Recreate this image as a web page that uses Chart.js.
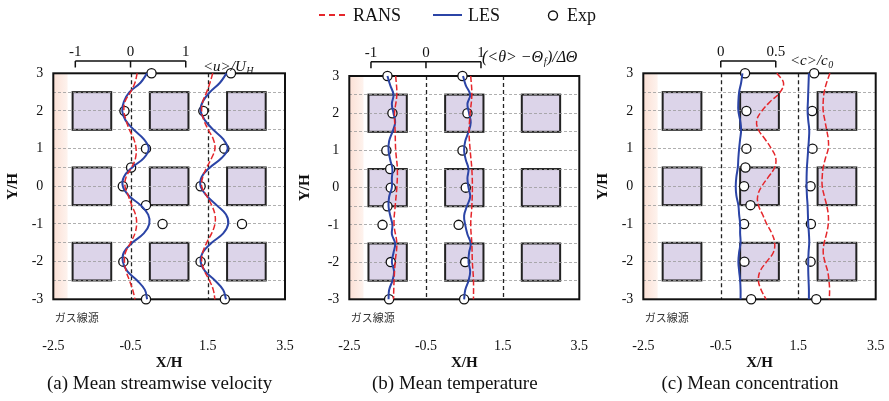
<!DOCTYPE html>
<html>
<head>
<meta charset="utf-8">
<script src="https://cdn.jsdelivr.net/npm/chart.js"></script>
<style>
  body { margin: 0; background: #fff; }
  #wrap { position: relative; width: 889px; height: 401px; overflow: hidden; }
  canvas { position: absolute; top: 0; }
</style>
</head>
<body>
<div id="wrap">
  <canvas id="panelA" width="296" height="401" style="left:0px"></canvas>
  <canvas id="panelB" width="310" height="401" style="left:296px"></canvas>
  <canvas id="panelC" width="299" height="401" style="left:590px"></canvas>
</div>
<script>
document.addEventListener("DOMContentLoaded", function () {

const SERIF = '"Liberation Serif", "Times New Roman", serif';
const CJK = '"Noto Sans CJK JP", "Noto Sans", sans-serif';
const RED = "#e5262b";
const BLUE = "#2b44a6";
const INK = "#111";

// Y/H stations of the profiles
const Y_PROFILE = [3, 2.75, 2.5, 2.25, 2, 1.75, 1.5, 1.25, 1, 0.75, 0.5, 0.25, 0,
  -0.25, -0.5, -0.75, -1, -1.25, -1.5, -1.75, -2, -2.25, -2.5, -2.75, -3];
const Y_COARSE = [3, 2.5, 2, 1.5, 1, 0.5, 0, -0.5, -1, -1.5, -2, -2.5, -3];
const Y_EXP_FULL = [3, 2, 1, 0.5, 0, -0.5, -1, -2, -3];
const Y_EXP_SHORT = [3, 2, 1, 0, -1, -2, -3];

const X_TICKS = [-2.5, -0.5, 1.5, 3.5];

// (a) <u>/U_H
const U_LES_1 = [0.30, 0.18, -0.02, -0.12, -0.15, -0.09, 0.06, 0.24, 0.33, 0.24, 0.03, -0.12, -0.14,
  -0.03, 0.18, 0.32, 0.34, 0.24, 0.03, -0.12, -0.14, -0.06, 0.12, 0.26, 0.30];
const U_RANS_1 = [0.12, 0.08, 0.00, -0.10, -0.12, -0.08, -0.02, 0.06, 0.10, 0.09, 0.02, -0.08, -0.10,
  -0.04, 0.02, 0.09, 0.11, 0.08, 0.00, -0.09, -0.11, -0.08, -0.02, 0.04, 0.08];
const U_EXP_1 = [0.38, -0.11, 0.28, 0.01, -0.14, 0.28, 0.58, -0.13, 0.28];
const U_LES_2 = [0.34, 0.22, 0.04, -0.09, -0.13, -0.05, 0.10, 0.28, 0.36, 0.25, 0.04, -0.11, -0.13,
  -0.02, 0.16, 0.33, 0.37, 0.28, 0.07, -0.09, -0.13, -0.05, 0.13, 0.28, 0.33];
const U_RANS_2 = [0.09, 0.04, -0.02, -0.09, -0.11, -0.07, 0.01, 0.10, 0.13, 0.07, -0.02, -0.09, -0.11,
  -0.02, 0.07, 0.13, 0.13, 0.07, -0.02, -0.09, -0.11, -0.06, 0.03, 0.10, 0.13];
const U_EXP_2 = [0.42, -0.08, 0.30, -0.13, 0.62, -0.13, 0.31];

// (b) (<theta> - Theta_f) / dTheta
const T_LES_1 = [-0.70, -0.65, -0.59, -0.62, -0.59, -0.56, -0.61, -0.67, -0.68, -0.65, -0.61, -0.62, -0.62,
  -0.67, -0.68, -0.65, -0.61, -0.62, -0.56, -0.59, -0.62, -0.58, -0.61, -0.67, -0.68];
const T_RANS_1 = [-0.55, -0.53, -0.57, -0.56, -0.55, -0.52, -0.53, -0.56, -0.58, -0.53, -0.56, -0.58, -0.59];
const T_EXP_1 = [-0.70, -0.61, -0.72, -0.65, -0.64, -0.70, -0.79, -0.64, -0.67];
const T_LES_2 = [-0.72, -0.67, -0.59, -0.64, -0.61, -0.58, -0.62, -0.68, -0.70, -0.67, -0.62, -0.64, -0.62,
  -0.59, -0.65, -0.70, -0.68, -0.64, -0.58, -0.61, -0.62, -0.59, -0.62, -0.68, -0.70];
const T_RANS_2 = [-0.58, -0.56, -0.59, -0.61, -0.59, -0.56, -0.55, -0.56, -0.58, -0.56, -0.55, -0.53, -0.53];
const T_EXP_2 = [-0.73, -0.64, -0.73, -0.67, -0.80, -0.68, -0.70];

// (c) <c>/c0
const C_LES_1 = [0.197, 0.185, 0.167, 0.160, 0.160, 0.176, 0.185, 0.176, 0.167, 0.160, 0.155, 0.142, 0.136,
  0.142, 0.160, 0.167, 0.176, 0.176, 0.180, 0.167, 0.160, 0.167, 0.176, 0.180, 0.180];
const C_RANS_1 = [0.51, 0.57, 0.54, 0.45, 0.373, 0.327, 0.342, 0.403, 0.46, 0.50, 0.49, 0.433, 0.373,
  0.336, 0.342, 0.38, 0.418, 0.464, 0.49, 0.479, 0.418, 0.358, 0.342, 0.367, 0.412];
const C_EXP_1 = [0.221, 0.233, 0.233, 0.224, 0.212, 0.270, 0.212, 0.215, 0.276];
const C_LES_2 = [0.097, 0.094, 0.091, 0.088, 0.085, 0.091, 0.100, 0.097, 0.091, 0.085, 0.079, 0.076, 0.076,
  0.079, 0.085, 0.088, 0.091, 0.097, 0.100, 0.094, 0.091, 0.091, 0.094, 0.097, 0.097];
const C_RANS_2 = [0.288, 0.258, 0.236, 0.227, 0.227, 0.242, 0.258, 0.273, 0.273, 0.248, 0.227, 0.218, 0.218,
  0.236, 0.258, 0.273, 0.273, 0.258, 0.236, 0.227, 0.242, 0.267, 0.279, 0.285, 0.282];
const C_EXP_2 = [0.145, 0.127, 0.130, 0.112, 0.115, 0.112, 0.164];

// block array and source strip (X/H, Y/H)
const BLOCK_X = [[-2, -1], [0, 1], [2, 3]];
const BLOCK_Y = [[1.5, 2.5], [-0.5, 0.5], [-2.5, -1.5]];
const STRIP_X = [-2.5, -2.13];

const panels = [
  {
    id: "panelA", top: 73.3, padRight: 11, yTitlePad: 4.6,
    caption: "(a) Mean streamwise velocity", scale: 1.43,
    bracket: { ticks: [-1, 0, 1], y: 61 },
    name: { x: 203, y: 71, parts: [["<u>/U", 15, 0], ["H", 10, 2.5]] },
    profiles: [
      { base: -0.5, les: U_LES_1, rans: U_RANS_1, ransY: Y_PROFILE, exp: U_EXP_1, expY: Y_EXP_FULL },
      { base: 1.5, les: U_LES_2, rans: U_RANS_2, ransY: Y_PROFILE, exp: U_EXP_2, expY: Y_EXP_SHORT }
    ]
  },
  {
    id: "panelB", top: 76, padRight: 26.7, yTitlePad: 0.6, legend: true,
    caption: "(b) Mean temperature", scale: 1.435,
    bracket: { ticks: [-1, 0, 1], y: 61.7 },
    name: { x: 186, y: 62, parts: [["(<θ> −Θ", 16, 0], ["f", 10, 3], [")/ΔΘ", 16, 0]] },
    profiles: [
      { base: -0.5, les: T_LES_1, rans: T_RANS_1, ransY: Y_COARSE, exp: T_EXP_1, expY: Y_EXP_FULL },
      { base: 1.5, les: T_LES_2, rans: T_RANS_2, ransY: Y_COARSE, exp: T_EXP_2, expY: Y_EXP_SHORT }
    ]
  },
  {
    id: "panelC", top: 73.3, padRight: 13.3, yTitlePad: 4.1,
    caption: "(c) Mean concentration", scale: 2.84,
    bracket: { ticks: [0, 0.5], y: 61 },
    name: { x: 200, y: 65, parts: [["<c>/c", 15, 0], ["0", 10, 2.5]] },
    profiles: [
      { base: -0.5, les: C_LES_1, rans: C_RANS_1, ransY: Y_PROFILE, exp: C_EXP_1, expY: Y_EXP_FULL },
      { base: 1.5, les: C_LES_2, rans: C_RANS_2, ransY: Y_PROFILE, exp: C_EXP_2, expY: Y_EXP_SHORT }
    ]
  }
];

// italic text with subscripts, drawn piece by piece
function drawRich(ctx, x, y, parts) {
  ctx.textAlign = "left";
  ctx.textBaseline = "alphabetic";
  parts.forEach(([txt, size, dy]) => {
    ctx.font = "italic " + size + "px " + SERIF;
    ctx.fillText(txt, x, y + dy);
    x += ctx.measureText(txt).width + 0.5;
  });
}

function panelDecor(cfg) {
  return {
    id: "panelDecor",
    beforeDraw(chart) {
      const { ctx, chartArea: a, scales: { x, y } } = chart;
      ctx.save();
      // line source strip on the upwind side
      const sx1 = x.getPixelForValue(STRIP_X[1]);
      const g = ctx.createLinearGradient(a.left, 0, sx1, 0);
      g.addColorStop(0, "#fbe0d5");
      g.addColorStop(1, "#fef3ee");
      ctx.fillStyle = g;
      ctx.fillRect(a.left, a.top, sx1 - a.left, a.bottom - a.top);
      // buildings
      ctx.fillStyle = "#dcd4e9";
      ctx.strokeStyle = "#222";
      ctx.lineWidth = 2;
      BLOCK_X.forEach(([x0, x1]) => BLOCK_Y.forEach(([y0, y1]) => {
        const px = x.getPixelForValue(x0), py = y.getPixelForValue(y1);
        const w = x.getPixelForValue(x1) - px, h = y.getPixelForValue(y0) - py;
        ctx.fillRect(px, py, w, h);
        ctx.strokeRect(px, py, w, h);
      }));
      ctx.restore();
    },
    beforeDatasetsDraw(chart) {
      const { ctx, chartArea: a, scales: { x } } = chart;
      ctx.save();
      // zero line of each profile
      ctx.strokeStyle = "#222";
      ctx.lineWidth = 1.3;
      ctx.setLineDash([4, 3]);
      cfg.profiles.forEach(p => {
        const px = Math.round(x.getPixelForValue(p.base)) + 0.5;
        ctx.beginPath();
        ctx.moveTo(px, a.top);
        ctx.lineTo(px, a.bottom);
        ctx.stroke();
      });
      ctx.setLineDash([]);
      ctx.strokeStyle = INK;
      ctx.lineWidth = 2;
      ctx.strokeRect(a.left, a.top, a.right - a.left, a.bottom - a.top);
      ctx.restore();
    },
    afterDraw(chart) {
      const { ctx, chartArea: a, scales: { x } } = chart;
      ctx.save();
      ctx.fillStyle = INK;
      ctx.strokeStyle = INK;
      ctx.lineWidth = 1.5;

      // scale bracket for the profile values
      const base = cfg.profiles[0].base;
      const bx = cfg.bracket.ticks.map(v => x.getPixelForValue(base + v * cfg.scale));
      const by = cfg.bracket.y;
      ctx.beginPath();
      ctx.moveTo(bx[0], by);
      ctx.lineTo(bx[bx.length - 1], by);
      bx.forEach(px => { ctx.moveTo(px, by); ctx.lineTo(px, by + 6.5); });
      ctx.stroke();
      ctx.font = "15px " + SERIF;
      ctx.textAlign = "center";
      ctx.textBaseline = "middle";
      cfg.bracket.ticks.forEach((v, i) => ctx.fillText(String(v), bx[i], by - 8.5));

      drawRich(ctx, cfg.name.x, cfg.name.y, cfg.name.parts);

      // caption under the panel
      ctx.font = "19px " + SERIF;
      ctx.textAlign = "center";
      ctx.textBaseline = "middle";
      ctx.fillText(cfg.caption, (a.left + a.right) / 2 - 9.5, 384);

      // gas line source note
      ctx.font = "11px " + CJK;
      ctx.fillStyle = "#333";
      ctx.textAlign = "left";
      ctx.fillText("ガス線源", a.left + 1.5, 318);

      if (cfg.legend) {
        ctx.fillStyle = INK;
        ctx.font = "18px " + SERIF;
        ctx.lineWidth = 2;
        ctx.strokeStyle = RED;
        ctx.setLineDash([6, 4]);
        ctx.beginPath(); ctx.moveTo(23, 15); ctx.lineTo(49, 15); ctx.stroke();
        ctx.setLineDash([]);
        ctx.fillText("RANS", 57, 16);
        ctx.strokeStyle = BLUE;
        ctx.beginPath(); ctx.moveTo(137, 15); ctx.lineTo(166, 15); ctx.stroke();
        ctx.fillText("LES", 172, 16);
        ctx.strokeStyle = INK;
        ctx.lineWidth = 1.4;
        ctx.beginPath(); ctx.arc(257, 15.5, 4.5, 0, Math.PI * 2); ctx.stroke();
        ctx.fillText("Exp", 271, 16);
      }
      ctx.restore();
    }
  };
}

function buildDatasets(cfg) {
  const sets = [];
  cfg.profiles.forEach(p => {
    sets.push({
      label: "RANS",
      data: p.ransY.map((yv, i) => ({ x: p.base + p.rans[i] * cfg.scale, y: yv })),
      borderColor: RED, borderWidth: 1.5, borderDash: [6, 2.5],
      pointRadius: 0, tension: 0.4, fill: false, clip: false
    });
  });
  cfg.profiles.forEach(p => {
    sets.push({
      label: "LES",
      data: Y_PROFILE.map((yv, i) => ({ x: p.base + p.les[i] * cfg.scale, y: yv })),
      borderColor: BLUE, borderWidth: 2,
      pointRadius: 0, tension: 0.4, fill: false, clip: false
    });
  });
  cfg.profiles.forEach(p => {
    sets.push({
      label: "Exp",
      data: p.expY.map((yv, i) => ({ x: p.base + p.exp[i] * cfg.scale, y: yv })),
      showLine: false,
      pointRadius: 4.6, pointBorderWidth: 1.3,
      pointBorderColor: INK, pointBackgroundColor: "#fff",
      clip: false
    });
  });
  return sets;
}

panels.forEach(cfg => {
  const ctx = document.getElementById(cfg.id).getContext("2d");
  new Chart(ctx, {
    type: "line",
    data: { datasets: buildDatasets(cfg) },
    options: {
      responsive: false,
      animation: false,
      devicePixelRatio: 1,
      layout: { padding: { left: 0, right: cfg.padRight, top: cfg.top, bottom: 28.6 } },
      plugins: {
        legend: { display: false },
        tooltip: { enabled: false },
        title: { display: false }
      },
      scales: {
        x: {
          type: "linear", min: -2.5, max: 3.5,
          afterBuildTicks: s => { s.ticks = X_TICKS.map(v => ({ value: v })); },
          afterFit: s => {
            // fixed band under the plot; end labels may hang over the sides
            s.height = 73.1;
            s.paddingLeft = 0;
            s.paddingRight = 0;
          },
          grid: { display: false, drawTicks: false },
          border: { display: false },
          ticks: {
            padding: 38.8, color: INK, autoSkip: false, maxRotation: 0,
            font: { family: SERIF, size: 14 },
            callback: v => Number(v).toFixed(1)
          },
          title: {
            display: true, text: "X/H", color: INK,
            font: { family: SERIF, size: 15, weight: "bold" },
            padding: { top: 0, bottom: 0 }
          }
        },
        y: {
          type: "linear", min: -3, max: 3,
          afterFit: s => { s.width = 53.3; },
          grid: { color: "#9a9a9a", lineWidth: 0.8, drawTicks: false },
          border: { display: false, dash: [3, 2] },
          ticks: {
            stepSize: 0.5, autoSkip: false, padding: 10, color: INK,
            font: { family: SERIF, size: 14 },
            callback: v => Number.isInteger(v) ? String(v) : ""
          },
          title: {
            display: true, text: "Y/H", color: INK,
            font: { family: SERIF, size: 15, weight: "bold" },
            padding: { top: cfg.yTitlePad, bottom: 0 }
          }
        }
      }
    },
    plugins: [panelDecor(cfg)]
  });
});

});
</script>
</body>
</html>
